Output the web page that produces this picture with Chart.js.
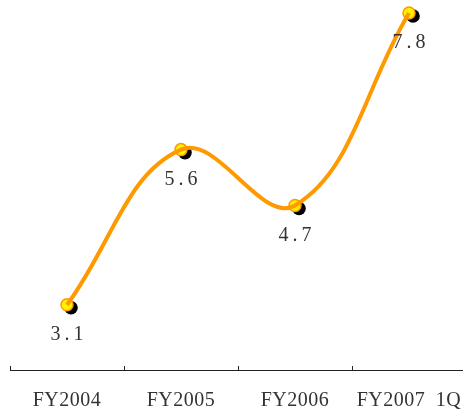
<!DOCTYPE html>
<html>
<head>
<meta charset="utf-8">
<script src="https://cdn.jsdelivr.net/npm/chart.js@4/dist/chart.umd.min.js"></script>
<style>
  html, body { margin: 0; padding: 0; background: #fff; overflow: hidden; }
  #wrap { width: 466px; height: 412px; position: relative; }
</style>
</head>
<body>
<div id="wrap"><canvas id="c"></canvas></div>
<script>
// Fiscal periods and values
const categories = ['FY2004', 'FY2005', 'FY2006', 'FY2007\u20021Q'];
const values = [3.1, 5.6, 4.7, 7.8];

const FONT = "'Liberation Serif', 'DejaVu Serif', serif";

// Black drop shadow behind each marker
const markerShadow = {
  id: 'markerShadow',
  beforeDatasetDraw(chart, args) {
    if (args.index !== 1) return;
    const ctx = chart.ctx;
    ctx.save();
    ctx.fillStyle = '#000';
    args.meta.data.forEach(pt => {
      ctx.beginPath();
      ctx.arc(pt.x + 4, pt.y + 3, 6.8, 0, Math.PI * 2);
      ctx.fill();
    });
    ctx.restore();
  }
};

// Small upward tick marks at category boundaries
const boundaryTicks = {
  id: 'boundaryTicks',
  afterDraw(chart) {
    const x = chart.scales.x;
    const ctx = chart.ctx;
    const y = chart.chartArea.bottom;
    ctx.save();
    ctx.strokeStyle = '#222';
    ctx.lineWidth = 1;
    for (let i = 0; i < categories.length; i++) {
      const px = Math.round(x.getPixelForValue(i - 0.5)) + 0.5;
      ctx.beginPath();
      ctx.moveTo(px, y);
      ctx.lineTo(px, y - 4);
      ctx.stroke();
    }
    ctx.restore();
  }
};

// Value labels under each marker
const valueLabels = {
  id: 'valueLabels',
  afterDatasetsDraw(chart) {
    const meta = chart.getDatasetMeta(1);
    const ctx = chart.ctx;
    ctx.save();
    ctx.font = '20px ' + FONT;
    ctx.fillStyle = '#333';
    ctx.textAlign = 'center';
    ctx.textBaseline = 'middle';
    ctx.letterSpacing = '4px';
    meta.data.forEach((pt, i) => {
      ctx.fillText(values[i].toFixed(1), pt.x + 2, pt.y + 30);
    });
    ctx.restore();
  }
};

// Letter spacing for the axis labels
const axisSpacing = {
  id: 'axisSpacing',
  beforeDraw(chart) { chart.ctx.letterSpacing = '0.5px'; }
};

new Chart(document.getElementById('c'), {
  type: 'line',
  data: {
    labels: categories,
    datasets: [
      {
        data: values,
        borderColor: '#FF9900',
        borderWidth: 4,
        tension: 0.4,
        pointRadius: 0,
        fill: false,
        clip: false
      },
      {
        data: values,
        showLine: false,
        pointRadius: 6,
        pointBorderWidth: 1.5,
        pointBackgroundColor: '#FFF200',
        pointBorderColor: '#FF9900',
        clip: false
      }
    ]
  },
  options: {
    responsive: true,
    maintainAspectRatio: false,
    animation: false,
    events: [],
    layout: { autoPadding: false, padding: { left: 10, right: 0, top: 0, bottom: 0 } },
    plugins: { legend: { display: false }, tooltip: { enabled: false } },
    scales: {
      x: {
        offset: true,
        grid: { display: false, drawTicks: false },
        border: { display: true, color: '#222', width: 1 },
        ticks: {
          padding: 19,
          color: '#333',
          font: { family: FONT, size: 20 },
          maxRotation: 0,
          autoSkip: false
        },
        afterFit(scale) {
          scale.paddingLeft = 0;
          scale.paddingRight = 0;
          scale.height = 42;
        }
      },
      y: {
        display: false,
        min: 2.05,
        max: 8.01
      }
    }
  },
  plugins: [markerShadow, boundaryTicks, valueLabels, axisSpacing]
});
</script>
</body>
</html>
